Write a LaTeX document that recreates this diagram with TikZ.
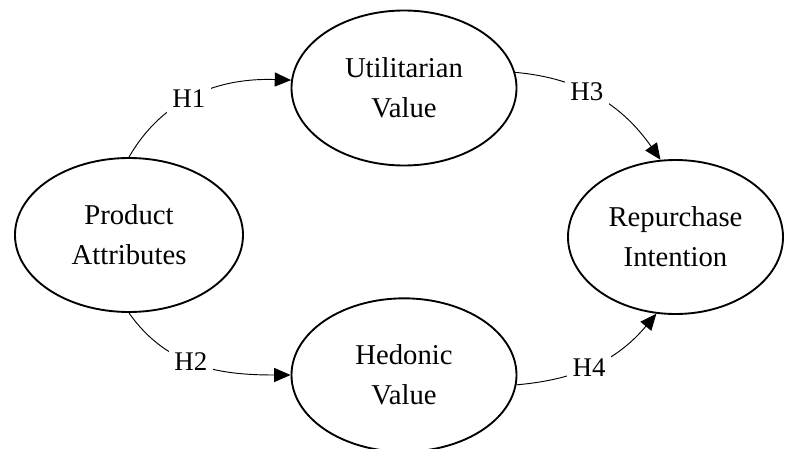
\documentclass[tikz,border=0pt]{standalone}
\usepackage{fontspec}
\setmainfont{Liberation Serif}
\usepackage{tikz}
\usetikzlibrary{shapes,arrows.meta}

\begin{document}
\begin{tikzpicture}[x=0.03cm,y=-0.03cm,
                   construct/.style={ellipse,draw=black,line width=1.6pt,inner sep=0pt,align=center,
                   font=\fontsize{24.5}{34}\selectfont},
                   path/.style={line width=0.8pt,-{Triangle[length=14pt,width=12pt]}},
                   hyp/.style={fill=white,inner sep=5pt,font=\fontsize{23}{26}\selectfont}]
\useasboundingbox (0,0) rectangle (785,449);
\node[construct,minimum width=6.84cm,minimum height=4.62cm] (pa) at (129,235) {Product\\Attributes};
\node[construct,minimum width=6.75cm,minimum height=4.65cm] (uv) at (404,88) {Utilitarian\\Value};
\node[construct,minimum width=6.75cm,minimum height=4.6cm] (hv) at (404,375) {Hedonic\\Value};
\node[construct,minimum width=6.45cm,minimum height=4.62cm] (ri) at (675.5,237) {Repurchase\\Intention};

\draw[path] (pa.north) to[out=60,in=178] node[hyp,pos=0.45]{H1} (uv.176);
\draw[path] (pa.south) to[out=-55,in=180] node[hyp,pos=0.45]{H2} (hv.west);
\draw[path] (uv.8) to[out=-5,in=125] node[hyp,pos=0.42]{H3} (ri.101);
\draw[path] (hv.-5) to[out=5,in=230] node[hyp,pos=0.46]{H4} (ri.256);
\end{tikzpicture}
\end{document}
